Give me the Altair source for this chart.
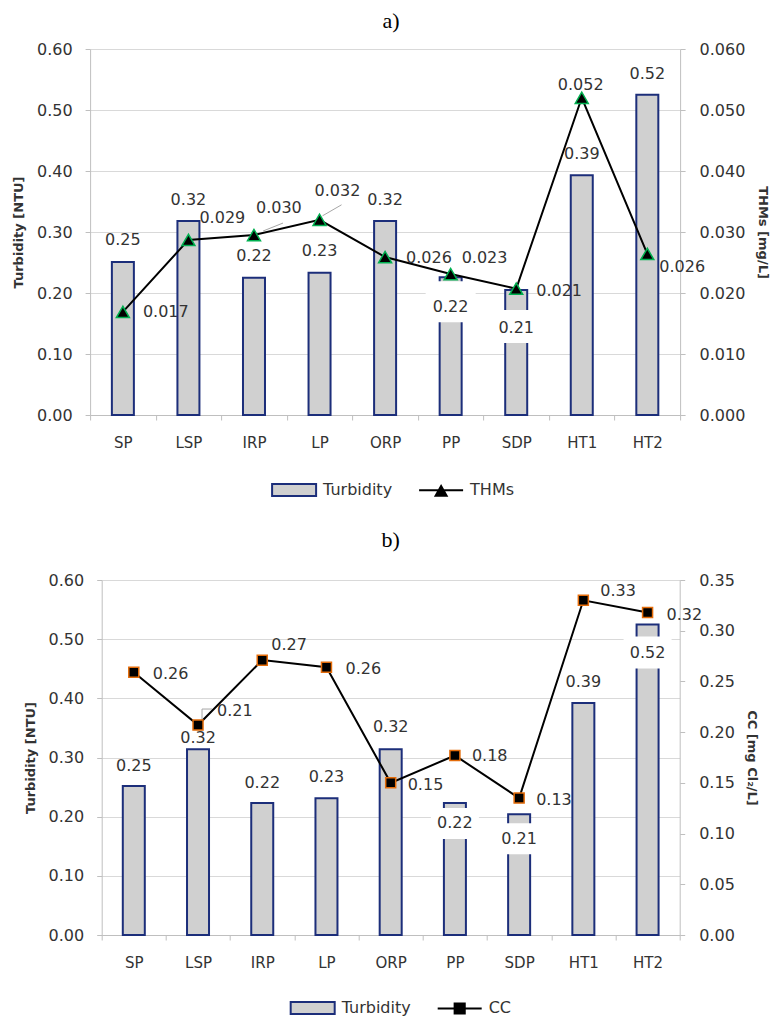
import altair as alt
import pandas as pd

# ---------------- data ----------------
categories = ["SP", "LSP", "IRP", "LP", "ORP", "PP", "SDP", "HT1", "HT2"]

turb_a = [0.251, 0.318, 0.225, 0.233, 0.318, 0.226, 0.205, 0.393, 0.525]
turb_a_labels = ["0.25", "0.32", "0.22", "0.23", "0.32", "0.22", "0.21", "0.39", "0.52"]
thms = [0.0169, 0.0287, 0.0295, 0.0320, 0.0259, 0.0231, 0.0207, 0.0520, 0.0264]
thms_labels = ["0.017", "0.029", "0.030", "0.032", "0.026", "0.023", "0.021", "0.052", "0.026"]

turb_b = [0.252, 0.314, 0.223, 0.231, 0.314, 0.223, 0.204, 0.392, 0.525]
turb_b_labels = ["0.25", "0.32", "0.22", "0.23", "0.32", "0.22", "0.21", "0.39", "0.52"]
cc = [0.259, 0.207, 0.271, 0.264, 0.150, 0.177, 0.135, 0.330, 0.318]
cc_labels = ["0.26", "0.21", "0.27", "0.26", "0.15", "0.18", "0.13", "0.33", "0.32"]

left_ticks = [0.0, 0.1, 0.2, 0.3, 0.4, 0.5, 0.6]
thms_ticks = [0.0, 0.01, 0.02, 0.03, 0.04, 0.05, 0.06]
cc_ticks = [0.0, 0.05, 0.10, 0.15, 0.20, 0.25, 0.30, 0.35]

series_a = ["Turbidity", "THMs"]
series_b = ["Turbidity", "CC"]

# ---------------- styles ----------------
FONT = "DejaVu Sans"
TXT = "#333333"
BAR_FILL = "#d0d0d0"
BAR_STROKE = "#1c2e7a"
GRID = "#d9d9d9"
AXIS = "#bfbfbf"
GREEN = "#00b050"
ORANGE = "#e46c0a"
LEADER = "#a6a6a6"

# label offsets (dx, dy) per category
turb_a_off = [(0, -22), (0, -21), (0, -22), (0, -22), (0, -21), (0, 30), (0, 38), (0, -21), (0, -21)]
thms_off = [(20, 0), (11, -22), (2, -27), (-5, -29), (21, 1), (11, -16), (20, 2), (-24, -13), (12, 13)]
turb_b_off = [(0, -20), (0, -11), (0, -20), (0, -21), (0, -22), (0, 20), (0, 25), (0, -21), (0, 29)]
cc_off = [(19, 2), (19, -14), (9, -15), (19, 2), (17, 2), (17, 1), (17, 2), (17, -9), (19, 3)]

# white label boxes: category -> (dy, w, h)
boxes_a = {"PP": (24.5, 50, 41), "SDP": (36.5, 50, 33)}
boxes_b = {"PP": (20.5, 48, 31), "SDP": (24.5, 48, 31), "HT2": (28, 48, 32)}

# leader lines (pixel paths relative to the marker)
leaders_a = {"IRP": "M9,-4L29,-12", "LP": "M3,-4L22,-15"}
leaders_b = {"LSP": "M4,-4L4,-16L14,-16"}

RECT_LEG = "M-1,-0.27H1V0.27H-1Z"
TRI_LEG = "M-1,0H1M0,-0.2L0.25,0.24L-0.25,0.24Z"
SQ_LEG = "M-1,0H1M-0.23,-0.23H0.23V0.23H-0.23Z"


def box_path(w, h):
    return f"M{-w/2},{-h/2}H{w/2}V{h/2}H{-w/2}Z"


def panel(title, turb, turb_lbl, sec, sec_lbl, series, sec_title, sec_domain,
          sec_ticks, sec_fmt, sec_title_pad, marker_shape, marker_size, marker_stroke,
          turb_off, sec_off, boxes, leaders, leg_shapes, width, height,
          leg_x, leg_y, title_offset, title_dx):
    df = pd.DataFrame({"cat": categories, "turb": turb, "tl": turb_lbl,
                       "sec": sec, "sl": sec_lbl})
    base = alt.Chart(df)

    x_enc = alt.X("cat:N", sort=categories,
                  scale=alt.Scale(paddingInner=0, paddingOuter=0),
                  axis=alt.Axis(title=None, labelAngle=0, labelFont=FONT, labelFontSize=15,
                                labelColor=TXT, labelPadding=15, tickBand="extent",
                                tickSize=5, tickColor=AXIS, domainColor=AXIS, grid=False))
    y_left = alt.Y("turb:Q", scale=alt.Scale(domain=[0, 0.6], nice=False, zero=True),
                   axis=alt.Axis(values=left_ticks, format=".2f", title="Turbidity [NTU]",
                                 titleFont=FONT, titleFontSize=13, titleFontWeight="bold",
                                 titleColor=TXT, titlePadding=11, labelFont=FONT,
                                 labelFontSize=16, labelColor=TXT, labelPadding=13,
                                 tickSize=5, tickColor=AXIS, domainColor=AXIS,
                                 gridColor=GRID))
    y_right = alt.Y("sec:Q", scale=alt.Scale(domain=sec_domain, nice=False, zero=True),
                    axis=alt.Axis(orient="right", values=sec_ticks, format=sec_fmt,
                                  title=sec_title, titleFont=FONT, titleFontSize=13,
                                  titleFontWeight="bold", titleColor=TXT,
                                  titlePadding=sec_title_pad, labelFont=FONT,
                                  labelFontSize=16, labelColor=TXT, labelPadding=14,
                                  tickSize=5, tickColor=AXIS, domainColor=AXIS, grid=False))

    bars = base.mark_bar(size=22, fill=BAR_FILL, stroke=BAR_STROKE, strokeWidth=2).encode(
        x=x_enc, y=y_left)

    box_layers = []
    for c, (dy, w, h) in boxes.items():
        box_layers.append(
            base.transform_filter(alt.datum.cat == c)
            .mark_point(shape=box_path(w, h), size=4, filled=True, fill="white",
                        opacity=1, strokeWidth=0, yOffset=dy)
            .encode(x=x_enc, y=y_left))

    tl_layers = []
    for c, (dx, dy) in zip(categories, turb_off):
        tl_layers.append(
            base.transform_filter(alt.datum.cat == c)
            .mark_text(dx=dx, dy=dy, font=FONT, fontSize=16, color=TXT,
                       align="center", baseline="middle")
            .encode(x=x_enc, y=y_left, text="tl:N"))

    group_a = alt.layer(bars, *box_layers, *tl_layers)

    line = base.mark_line(color="black", strokeWidth=2).encode(x=x_enc, y=y_right)
    pts = base.mark_point(shape=marker_shape, size=marker_size, filled=True, fill="black",
                          stroke=marker_stroke, strokeWidth=1.5, opacity=1).encode(
        x=x_enc, y=y_right)

    lead_layers = []
    for c, p in leaders.items():
        lead_layers.append(
            base.transform_filter(alt.datum.cat == c)
            .mark_point(shape=p, size=4, filled=False, stroke=LEADER, strokeWidth=1,
                        opacity=1)
            .encode(x=x_enc, y=y_right))

    sl_layers = []
    for c, (dx, dy) in zip(categories, sec_off):
        sl_layers.append(
            base.transform_filter(alt.datum.cat == c)
            .mark_text(dx=dx, dy=dy, font=FONT, fontSize=16, color=TXT,
                       align="left", baseline="middle")
            .encode(x=x_enc, y=y_right, text="sl:N"))

    group_b = alt.layer(line, *lead_layers, pts, *sl_layers)

    legend = alt.Legend(title=None, orient="none", legendX=leg_x, legendY=leg_y,
                        direction="horizontal",
                        symbolSize=1936, symbolStrokeWidth=2, symbolOpacity=1,
                        labelFont=FONT, labelFontSize=16, labelColor=TXT, labelOffset=6,
                        columnPadding=22)
    leg = base.transform_filter("false").mark_point(filled=True, opacity=1, strokeWidth=2).encode(
        fill=alt.Fill("series:N", scale=alt.Scale(domain=series, range=[BAR_FILL, "black"]),
                      legend=legend),
        stroke=alt.Stroke("series:N", scale=alt.Scale(domain=series, range=[BAR_STROKE, "black"]),
                          legend=legend),
        shape=alt.Shape("series:N", scale=alt.Scale(domain=series, range=leg_shapes),
                        legend=legend))

    return alt.layer(group_a, group_b, leg).resolve_scale(y="independent").properties(
        width=width, height=height,
        title=alt.TitleParams(title, font="Liberation Serif", fontSize=22,
                              fontWeight="normal", color="black", offset=title_offset,
                              dx=title_dx))


top = panel("a)", turb_a, turb_a_labels, thms, thms_labels, series_a, "THMs [mg/L]",
            [0, 0.06], thms_ticks, ".3f", 11, "triangle-up", 169, GREEN,
            turb_a_off, thms_off, boxes_a, leaders_a, [RECT_LEG, TRI_LEG], 590, 366,
            181, 418, 8, 6)

bottom = panel("b)", turb_b, turb_b_labels, cc, cc_labels, series_b, "CC [mg Cl₂/L]",
               [0, 0.35], cc_ticks, ".2f", 10, "square", 100, ORANGE,
               turb_b_off, cc_off, boxes_b, leaders_b, [RECT_LEG, SQ_LEG], 578, 355,
               188, 405, 20, 0)

chart = alt.vconcat(top, bottom, spacing=29, center=True).resolve_scale(
    fill="independent", stroke="independent", shape="independent"
).configure_view(strokeWidth=0).properties(
    padding={"left": 4, "top": 2, "right": 2, "bottom": 0}, background="white")

chart.save("out.html", embed_options={"renderer": "svg", "actions": False})
